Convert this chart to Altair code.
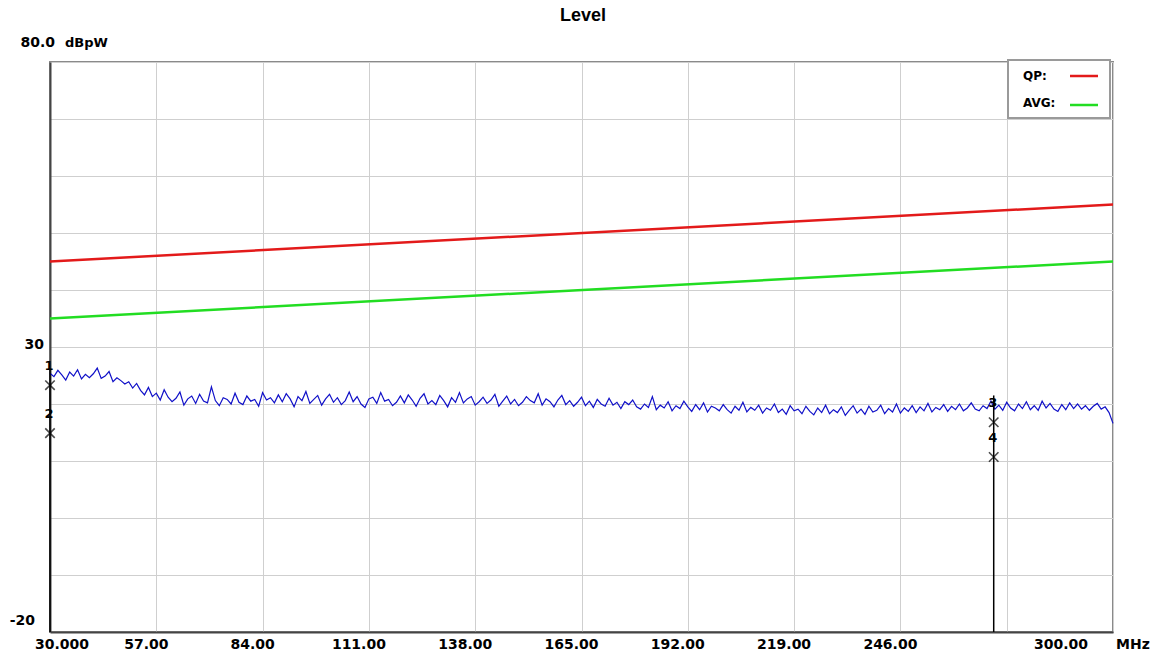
import altair as alt
import pandas as pd

# ---------------- data ----------------
trace_freq = list(range(30, 301))
trace_level = [
    25.4, 24.8, 25.9, 25.1, 24.2, 25.6, 24.9, 26.0, 24.4, 25.2,
    24.6, 25.3, 26.3, 24.5, 24.9, 25.7, 23.9, 24.6, 24.1, 23.5,
    23.9, 22.8, 23.6, 22.4, 21.6, 22.9, 21.3, 21.9, 20.7, 22.5,
    21.2, 20.4, 21.0, 22.1, 19.8, 20.9, 21.4, 20.1, 21.7, 20.5,
    20.2, 23.0, 20.6, 19.7, 21.1, 20.8, 20.0, 21.9, 20.3, 19.9,
    21.4, 20.5, 20.8, 19.6, 22.0, 20.7, 21.1, 20.2, 21.6, 20.4,
    21.8, 20.9, 19.5, 21.3, 20.6, 22.2, 20.1, 20.8, 21.5, 19.8,
    20.9, 21.7, 20.3, 21.1, 19.9, 20.6, 22.1, 20.4, 21.3, 20.0,
    19.4, 20.9, 21.2, 20.1, 22.0, 20.5, 20.8, 19.7, 20.3, 21.4,
    20.2, 21.6, 20.7, 19.6, 21.0, 21.8, 20.0, 20.6, 19.9, 21.5,
    20.6, 19.5, 21.1, 20.3, 22.0, 20.2, 20.9, 21.3, 19.8, 20.4,
    21.2, 20.1, 20.7, 21.7, 19.6, 20.5, 21.4, 20.0, 20.8, 19.7,
    20.3, 21.3, 20.6, 20.2, 21.8, 19.8, 20.9, 20.4, 19.5, 20.7,
    21.5, 19.9, 20.6, 19.6, 20.3, 21.2, 19.7, 20.5, 19.4, 20.8,
    20.0, 19.6, 21.0, 19.8, 20.3, 19.2, 20.4, 19.9, 20.7, 19.5,
    19.1, 20.0, 19.4, 21.3, 19.0, 19.8, 19.3, 20.4, 18.8, 19.7,
    19.2, 20.5, 19.5, 18.7, 19.9, 19.0, 20.2, 18.6, 19.6, 19.3,
    18.8, 19.9, 19.0, 18.4, 19.6, 18.9, 20.3, 18.6, 19.4, 18.9,
    19.8, 18.4, 19.3, 18.9, 20.0, 18.5, 19.1, 18.2, 19.7, 18.8,
    19.1, 18.3, 19.6, 18.7, 18.1, 19.3, 18.5, 19.8, 18.3, 19.0,
    18.5, 19.5, 18.0, 18.9, 19.7, 18.4, 19.1, 18.2, 19.6, 18.6,
    18.9, 19.8, 18.3, 19.2, 18.6, 20.0, 18.4, 19.3, 18.7, 19.7,
    18.5, 19.5, 18.8, 20.1, 18.6, 19.4, 19.0, 19.9, 18.7, 19.6,
    19.0, 20.0, 18.8, 19.3, 20.2, 19.1, 18.8, 19.7, 19.2, 20.5,
    19.1, 19.8, 18.9, 20.3, 19.3, 18.8, 20.0, 19.2, 20.4, 19.0,
    19.7, 18.9, 20.5, 19.3, 20.1, 19.1, 18.7, 19.9, 19.0, 20.2,
    19.2, 20.0, 19.1, 19.7, 18.9, 19.6, 20.1, 19.1, 19.5, 18.5, 16.6,
]

limit_freq = [30, 300]
qp_limit = [45, 55]
avg_limit = [35, 45]

marker_ids = ["1", "2", "3", "4"]
marker_freq = [30, 30, 269.7, 269.7]
marker_level = [23.3, 14.9, 16.8, 10.7]

marker_line_freq = [30, 269.7]
marker_line_top = [26.0, 21.5]

x_grid = [30, 57, 84, 111, 138, 165, 192, 219, 246, 273, 300]
x_mid_label_freq = [57, 84, 111, 138, 165, 192, 219, 246]
x_mid_label_text = ["57.00", "84.00", "111.00", "138.00", "165.00", "192.00", "219.00", "246.00"]
y_grid = [-20, -10, 0, 10, 20, 30, 40, 50, 60, 70, 80]

W, H = 1063, 570
FONT = "DejaVu Sans"

x_scale = alt.Scale(domain=[30, 300], nice=False, zero=False)
y_scale = alt.Scale(domain=[-20, 80], nice=False, zero=False)

trace_df = pd.DataFrame({"freq": trace_freq, "level": trace_level})
limit_df = pd.DataFrame({"freq": limit_freq, "qp": qp_limit, "avg": avg_limit})
marker_df = pd.DataFrame({"freq": marker_freq, "level": marker_level, "id": marker_ids})
mline_df = pd.DataFrame({"freq": marker_line_freq, "top": marker_line_top,
                         "bottom": [-20] * len(marker_line_freq)})
xlab_df = pd.DataFrame({"freq": x_mid_label_freq, "text": x_mid_label_text})
one = alt.Data(values=[{}])

trace = alt.Chart(trace_df).mark_line(color="#1010c8", strokeWidth=1.2).encode(
    x=alt.X("freq:Q", scale=x_scale, title=None,
            axis=alt.Axis(values=x_grid, labels=False, ticks=False, grid=True,
                          gridColor="#cfcfcf", gridWidth=1,
                          domain=True, domainColor="#444444", domainWidth=2)),
    y=alt.Y("level:Q", scale=y_scale, title=None,
            axis=alt.Axis(values=y_grid, labels=False, ticks=False, grid=True,
                          gridColor="#cfcfcf", gridWidth=1,
                          domain=True, domainColor="#444444", domainWidth=2)),
)

qp = alt.Chart(limit_df).mark_line(color="#e31a1a", strokeWidth=2.5).encode(
    x=alt.X("freq:Q", scale=x_scale), y=alt.Y("qp:Q", scale=y_scale))
avg = alt.Chart(limit_df).mark_line(color="#22dd22", strokeWidth=2.5).encode(
    x=alt.X("freq:Q", scale=x_scale), y=alt.Y("avg:Q", scale=y_scale))

mlines = alt.Chart(mline_df).mark_rule(color="black", strokeWidth=1.5).encode(
    x=alt.X("freq:Q", scale=x_scale), y=alt.Y("top:Q", scale=y_scale), y2="bottom:Q")

marks = alt.Chart(marker_df).mark_point(
    shape="M-1,-1L1,1M-1,1L1,-1", size=90, filled=False, color="black", strokeWidth=1.6
).encode(x=alt.X("freq:Q", scale=x_scale), y=alt.Y("level:Q", scale=y_scale))

mark_ids = alt.Chart(marker_df).mark_text(
    font=FONT, fontSize=13, fontWeight="bold", color="black", dy=-19, dx=-1
).encode(x=alt.X("freq:Q", scale=x_scale), y=alt.Y("level:Q", scale=y_scale), text="id:N")

# x labels
xlabels = alt.Chart(xlab_df).mark_text(
    font=FONT, fontSize=14, fontWeight="bold", color="black", dx=-10, baseline="middle"
).encode(x=alt.X("freq:Q", scale=x_scale), y=alt.value(H + 13), text="text:N")
xl_first = alt.Chart(one).mark_text(
    font=FONT, fontSize=14, fontWeight="bold", color="black", align="left", baseline="middle"
).encode(x=alt.value(-15), y=alt.value(H + 13), text=alt.value("30.000"))
xl_last = alt.Chart(one).mark_text(
    font=FONT, fontSize=14, fontWeight="bold", color="black", align="right", baseline="middle"
).encode(x=alt.value(W - 25), y=alt.value(H + 13), text=alt.value("300.00"))
xl_unit = alt.Chart(one).mark_text(
    font=FONT, fontSize=14, fontWeight="bold", color="black", align="left", baseline="middle"
).encode(x=alt.value(W + 3), y=alt.value(H + 13), text=alt.value("MHz"))

# y labels
yl80 = alt.Chart(one).mark_text(
    font=FONT, fontSize=14, fontWeight="bold", color="black", align="right", baseline="middle"
).encode(x=alt.value(5), y=alt.value(-19), text=alt.value("80.0"))
yunit = alt.Chart(one).mark_text(
    font=FONT, fontSize=13, fontWeight="bold", color="black", align="left", baseline="middle"
).encode(x=alt.value(15), y=alt.value(-19), text=alt.value("dBpW"))
yl30 = alt.Chart(one).mark_text(
    font=FONT, fontSize=14, fontWeight="bold", color="black", align="right", baseline="middle"
).encode(x=alt.value(-6), y=alt.value(H * 0.5 - 2), text=alt.value("30"))
ylm20 = alt.Chart(one).mark_text(
    font=FONT, fontSize=14, fontWeight="bold", color="black", align="right", baseline="middle"
).encode(x=alt.value(-15), y=alt.value(H - 11), text=alt.value("-20"))

title = alt.Chart(one).mark_text(
    font="Liberation Sans", fontSize=18, fontWeight="bold", color="black", align="center",
    baseline="middle"
).encode(x=alt.value(533), y=alt.value(-46), text=alt.value("Level"))

# legend box
lbox = alt.Chart(one).mark_rect(fill="white", stroke="#9a9a9a", strokeWidth=2).encode(
    x=alt.value(958), x2=alt.value(1060), y=alt.value(-2), y2=alt.value(56))
lqp_t = alt.Chart(one).mark_text(
    font=FONT, fontSize=12, fontWeight="bold", color="black", align="left", baseline="middle"
).encode(x=alt.value(973), y=alt.value(14), text=alt.value("QP:"))
lavg_t = alt.Chart(one).mark_text(
    font=FONT, fontSize=12, fontWeight="bold", color="black", align="left", baseline="middle"
).encode(x=alt.value(973), y=alt.value(41), text=alt.value("AVG:"))
lqp_l = alt.Chart(one).mark_rule(color="#e31a1a", strokeWidth=2.5).encode(
    x=alt.value(1020), x2=alt.value(1048), y=alt.value(14))
lavg_l = alt.Chart(one).mark_rule(color="#22dd22", strokeWidth=2.5).encode(
    x=alt.value(1020), x2=alt.value(1048), y=alt.value(43))

chart = alt.layer(
    trace, qp, avg, mlines, marks, mark_ids,
    xlabels, xl_first, xl_last, xl_unit,
    yl80, yunit, yl30, ylm20, title,
    lbox, lqp_t, lavg_t, lqp_l, lavg_l,
).properties(
    width=W, height=H,
    autosize=alt.AutoSizeParams(type="none"),
    padding={"left": 50, "top": 62, "right": 46, "bottom": 27},
    background="white",
).configure_view(stroke="#8a8a8a", strokeWidth=2)

chart.save("out.html", embed_options={"renderer": "svg", "actions": False})
